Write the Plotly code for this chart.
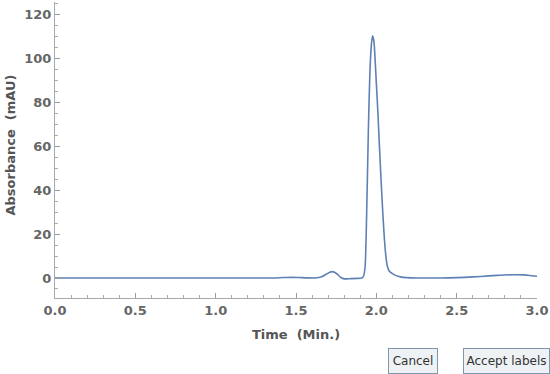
import plotly.graph_objects as go

time_min = [0.0, 0.5, 1.0, 1.35, 1.42, 1.47, 1.52, 1.57, 1.62, 1.66, 1.69, 1.71, 1.725,
            1.74, 1.76, 1.78, 1.80, 1.84, 1.88, 1.91, 1.92, 1.93, 1.94, 1.95, 1.96,
            1.97, 1.977, 1.985, 1.99, 2.00, 2.01, 2.02, 2.03, 2.04, 2.05, 2.06, 2.07,
            2.08, 2.10, 2.12, 2.15, 2.19, 2.25, 2.35, 2.45, 2.55, 2.65, 2.75, 2.85,
            2.92, 2.97, 3.0]
absorbance = [0.0, 0.0, 0.0, 0.0, 0.2, 0.3, 0.2, 0.05, 0.0, 0.6, 1.8, 2.6, 2.9,
              2.6, 1.5, 0.2, -0.4, -0.3, -0.2, 0.0, 0.8, 5.0, 30.0, 66.0, 94.0,
              107.0, 110.5, 108.0, 103.0, 89.0, 75.0, 59.0, 44.0, 30.0, 18.0, 9.5, 5.0,
              3.2, 2.0, 1.2, 0.5, 0.15, 0.0, 0.0, 0.05, 0.3, 0.7, 1.2, 1.5,
              1.4, 1.0, 0.8]

x_ticks = [0.0, 0.5, 1.0, 1.5, 2.0, 2.5, 3.0]
y_ticks = [0, 20, 40, 60, 80, 100, 120]

fig = go.Figure()
fig.add_trace(go.Scatter(x=time_min, y=absorbance, mode="lines",
                         line=dict(color="#5E81B5", width=1.6, shape="spline", smoothing=0.6),
                         hoverinfo="skip", showlegend=False))

tickfont = dict(family="DejaVu Sans", size=13, color="#666666", weight="bold")
titlefont = dict(family="DejaVu Sans", size=13, color="#555555", weight="bold")

fig.update_layout(
    width=550, height=374,
    margin=dict(l=55, r=13, t=2, b=76),
    paper_bgcolor="white", plot_bgcolor="white",
    xaxis=dict(range=[0, 3.0], tickvals=x_ticks, ticktext=[f"{v:.1f}" for v in x_ticks],
               ticks="inside", ticklen=5, tickcolor="#999999", tickwidth=1,
               showline=True, linecolor="#aaaaaa", linewidth=1, showgrid=False, zeroline=False,
               tickfont=tickfont,
               minor=dict(ticks="inside", ticklen=3, dtick=0.1, tickcolor="#aaaaaa", showgrid=False),
               title=dict(text="Time\u00a0 (Min.)", font=titlefont, standoff=13)),
    yaxis=dict(range=[-9.13, 125.9], tickvals=y_ticks, ticktext=[str(v) for v in y_ticks],
               ticks="inside", ticklen=5, tickcolor="#999999", tickwidth=1,
               showline=True, linecolor="#aaaaaa", linewidth=1, showgrid=False, zeroline=False,
               tickfont=tickfont,
               minor=dict(ticks="inside", ticklen=3, dtick=5, tickcolor="#aaaaaa", showgrid=False)),
)

def px_x(p):
    return (p - 55) / 482.0

def px_y(p):
    return (298 - p) / 296.0

fig.add_annotation(x=px_x(9.5), y=px_y(145), xref="paper", yref="paper",
                   text="Absorbance\u00a0 (mAU)", showarrow=False, font=titlefont,
                   textangle=-90, xanchor="center", yanchor="middle")

btnfont = dict(family="DejaVu Sans", size=12, color="#333333")
fig.add_annotation(x=px_x(413), y=px_y(361), xref="paper", yref="paper",
                   text="Cancel", showarrow=False, font=btnfont,
                   xanchor="center", yanchor="middle", width=48, height=24,
                   bordercolor="#7d97ae", borderwidth=1, borderpad=0, bgcolor="#eef2f5")
fig.add_annotation(x=px_x(506), y=px_y(361), xref="paper", yref="paper",
                   text="Accept labels", showarrow=False, font=btnfont,
                   xanchor="center", yanchor="middle", width=85, height=24,
                   bordercolor="#7d97ae", borderwidth=1, borderpad=0, bgcolor="#eef2f5")

fig.write_html("out.html")
